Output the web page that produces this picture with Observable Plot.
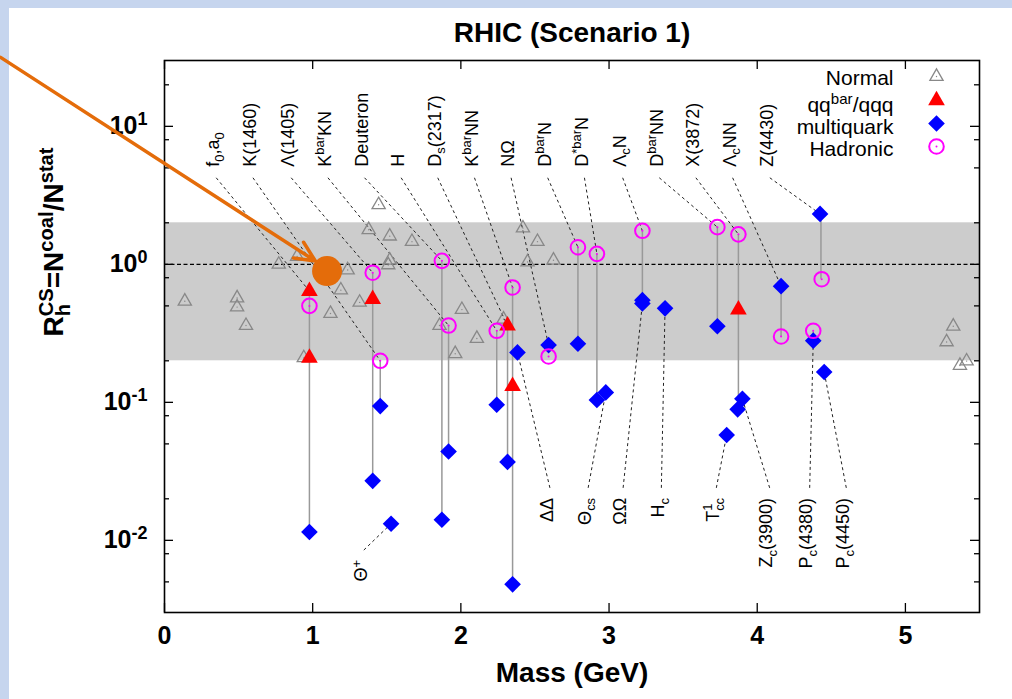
<!DOCTYPE html>
<html><head><meta charset="utf-8">
<script src="https://cdn.jsdelivr.net/npm/d3@7"></script>
<script src="https://cdn.jsdelivr.net/npm/@observablehq/plot@0.6"></script>
<style>
body{margin:0;width:1012px;height:699px;overflow:hidden;background:#c6d5ee;position:relative}
#paper{position:absolute;left:9px;top:8px;right:0;bottom:0;background:#fff}
#chart{position:absolute;left:0;top:0}
</style></head><body><div id="paper"></div><div id="chart"></div>
<script>
// ---------- data (mass in GeV, ratio R_h) ----------
const titleText = "RHIC (Scenario 1)";
const xLabel = "Mass (GeV)";
const yLabel = "R^{CS}_{h}=N^{coal}/N^{stat}";
const xTicks = [0, 1, 2, 3, 4, 5];
const yMajorTicks = [0.01, 0.1, 1, 10];
const yMinorTicks = [0.005, 0.008, 0.02, 0.05, 0.08, 0.2, 0.5, 0.8, 2, 5, 8, 20];
const xDomain = [0, 5.5];
const yDomain = [0.003, 30];
const bandLow = 0.2, bandHigh = 2;
const unityRatio = 1;

const normalMass  = [0.137,0.49,0.49,0.55,0.771,0.895,0.94,1.12,1.19,1.236,1.317,1.378,1.445,1.52,1.52,1.51,1.67,1.856,1.962,2.007,2.108,2.288,2.419,2.45,2.517,2.625,5.278,5.323,5.368,5.413];
const normalRatio = [0.54,0.57,0.49,0.36,1.0,1.14,0.21,0.44,0.65,0.91,0.53,1.78,2.7,1.6,1.07,0.99,1.46,0.36,0.225,0.47,0.29,0.40,1.83,1.04,1.46,1.07,0.274,0.356,0.185,0.199];

const qqMass  = [0.978,0.978,1.405,2.315,2.349,3.873];
const qqRatio = [0.64,0.21,0.56,0.36,0.131,0.47];

const multiMass  = [0.978,1.405,1.456,1.529,1.872,1.917,2.242,2.315,2.349,2.382,2.592,2.79,2.918,2.978,3.225,3.225,3.378,3.731,3.794,3.90,3.868,4.161,4.378,4.424,4.452];
const multiRatio = [0.0115,0.027,0.094,0.0132,0.0141,0.044,0.096,0.037,0.0048,0.23,0.26,0.266,0.104,0.118,0.55,0.52,0.48,0.356,0.058,0.106,0.089,0.695,0.28,2.32,0.166];

const hadMass  = [0.978,1.405,1.456,1.872,1.917,2.242,2.349,2.592,2.79,2.918,3.225,3.731,3.873,4.161,4.378,4.435];
const hadRatio = [0.50,0.87,0.20,1.06,0.36,0.33,0.68,0.215,1.33,1.19,1.75,1.86,1.65,0.30,0.33,0.78];

// vertical connectors between model values of one hadron
const connMass = [0.978,1.405,1.456,1.872,1.917,2.242,2.315,2.349,2.79,2.918,3.225,3.731,3.873,4.161,4.378,4.43];
const connHigh = [0.64,0.87,0.20,1.06,0.36,0.33,0.36,0.68,1.33,1.19,1.75,1.86,1.65,0.695,0.33,2.32];
const connLow  = [0.0115,0.027,0.094,0.0141,0.044,0.096,0.037,0.0048,0.266,0.104,0.52,0.356,0.106,0.30,0.28,0.78];

// labels above
const topLabels  = ["f_{0},a_{0}","K(1460)","Λ(1405)","K^{bar}KN","Deuteron","H","D_{s}(2317)","K^{bar}NN","NΩ","D^{bar}N","D^{*bar}N","Λ_{c}N","D^{bar}NN","X(3872)","Λ_{c}NN","Z(4430)"];
const topLabelX  = [0.332,0.58,0.838,1.086,1.333,1.58,1.827,2.075,2.322,2.569,2.817,3.075,3.322,3.569,3.817,4.068];
const topTargetX = [0.978,1.456,1.405,1.917,1.872,2.242,2.315,2.349,2.592,2.79,2.918,3.225,3.731,3.873,4.161,4.424];
const topTargetY = [0.64,0.20,0.87,0.36,1.06,0.33,0.36,0.68,0.26,1.33,1.19,1.75,1.86,1.65,0.695,2.32];
const topLabelBase = 5.1, topLineStart = 4.24;

// labels below
const botLabels  = ["ΔΔ","Θ_{cs}","ΩΩ","H_{c}","T^{1}_{cc}","Z_{c}(3900)","P_{c}(4380)","P_{c}(4450)"];
const botLabelX  = [2.581,2.839,3.075,3.333,3.704,4.064,4.334,4.581];
const botTargetX = [2.382,2.978,3.225,3.378,3.794,3.90,4.378,4.452];
const botTargetY = [0.23,0.118,0.52,0.48,0.058,0.106,0.28,0.166];
const botLabelTop = 0.0203, botLineStart = 0.024;

const thetaLabel = "Θ^{+}";
const thetaLabelX = 1.33, thetaLabelTop = 0.0072;
const thetaLineFrom = [1.345, 0.0085], thetaTarget = [1.529, 0.0132];

const legendLabels = ["Normal","qq^{bar}/qqq","multiquark","Hadronic"];

// orange annotation
const highlight = {mass: 1.097, ratio: 0.894};
const arrowFrom = {mass: -1.106, ratio: 31.6};
const arrowTo = {mass: 1.018, ratio: 1.057};

// ---------- layout ----------
const W = 1012, H = 699, mL = 164, mR = 33, mT = 60, mB = 87;
const fw = W - mL - mR, fh = H - mT - mB;
const FONT = '"Liberation Sans", Arial, Helvetica, sans-serif';
const idx = a => a.map((_, i) => i);
const ORANGE = "#E46C0A";

const marks = [
  Plot.rect([0], {x1: xDomain[0], x2: xDomain[1], y1: bandLow, y2: bandHigh, fill: "#cccccc"}),
  Plot.ruleY([unityRatio], {stroke: "black", strokeWidth: 1.3, strokeDasharray: "4,2.5"}),
  Plot.ruleX(idx(connMass), {x: i => connMass[i], y1: i => connHigh[i], y2: i => connLow[i], stroke: "#999", strokeWidth: 1.5}),
  Plot.link(idx(topLabels), {x1: i => topLabelX[i] + 0.017, y1: topLineStart, x2: i => topTargetX[i], y2: i => topTargetY[i], stroke: "#222", strokeWidth: 1, strokeDasharray: "3,3"}),
  Plot.link(idx(botLabels), {x1: i => botLabelX[i] + 0.02, y1: botLineStart, x2: i => botTargetX[i], y2: i => botTargetY[i], stroke: "#222", strokeWidth: 1, strokeDasharray: "3,3"}),
  Plot.link([0], {x1: thetaLineFrom[0], y1: thetaLineFrom[1], x2: thetaTarget[0], y2: thetaTarget[1], stroke: "#222", strokeWidth: 1, strokeDasharray: "3,3"}),
  Plot.dot(idx(normalMass), {x: i => normalMass[i], y: i => normalRatio[i], symbol: "triangle", r: 4.9, stroke: "#888", strokeWidth: 1.3, fill: "none"}),
  Plot.dot(idx(normalMass), {x: i => normalMass[i], y: i => normalRatio[i], r: 0.7, fill: "#888"}),
  Plot.dot(idx(qqMass), {x: i => qqMass[i], y: i => qqRatio[i], symbol: "triangle", r: 6.2, fill: "#ff0000"}),
  Plot.dot(idx(multiMass), {x: i => multiMass[i], y: i => multiRatio[i], symbol: "diamond2", r: 7.5, fill: "#0000ff"}),
  Plot.dot(idx(hadMass), {x: i => hadMass[i], y: i => hadRatio[i], r: 7.3, stroke: "#ff00ff", strokeWidth: 2, fill: "none"}),
  Plot.dot(idx(hadMass), {x: i => hadMass[i], y: i => hadRatio[i], r: 1, fill: "#ff00ff"}),
  // labels
  Plot.text(idx(topLabels), {x: i => topLabelX[i], y: topLabelBase, text: i => topLabels[i], rotate: -90, textAnchor: "start", lineAnchor: "middle", fontSize: 18, fill: "black"}),
  Plot.text(idx(botLabels), {x: i => botLabelX[i], y: botLabelTop, text: i => botLabels[i], rotate: -90, textAnchor: "end", lineAnchor: "middle", fontSize: 18, fill: "black"}),
  Plot.text([thetaLabel], {x: thetaLabelX, y: thetaLabelTop, text: d => d, rotate: -90, textAnchor: "end", lineAnchor: "middle", fontSize: 18, fill: "black"}),
  // ticks (inward, all four sides)
  Plot.tickY(yMajorTicks, {y: d => d, insetRight: fw - 9, stroke: "black", strokeWidth: 1.3}),
  Plot.tickY(yMajorTicks, {y: d => d, insetLeft: fw - 9, stroke: "black", strokeWidth: 1.3}),
  Plot.tickY(yMinorTicks, {y: d => d, insetRight: fw - 5, stroke: "black", strokeWidth: 1.3}),
  Plot.tickY(yMinorTicks, {y: d => d, insetLeft: fw - 5, stroke: "black", strokeWidth: 1.3}),
  Plot.tickX(xTicks, {x: d => d, insetBottom: fh - 9, stroke: "black", strokeWidth: 1.3}),
  Plot.tickX(xTicks, {x: d => d, insetTop: fh - 9, stroke: "black", strokeWidth: 1.3}),
  Plot.frame({stroke: "black", strokeWidth: 1.6}),
  // tick labels and titles
  Plot.text(xTicks, {x: d => d, frameAnchor: "bottom", dy: 23, text: d => String(d), lineAnchor: "middle", fontSize: 25, fontWeight: "bold", fill: "black"}),
  Plot.text(yMajorTicks, {y: d => d, frameAnchor: "left", dx: -17, text: d => "10^{" + Math.round(Math.log10(d)) + "}", textAnchor: "end", lineAnchor: "middle", fontSize: 25, fontWeight: "bold", fill: "black"}),
  Plot.text([titleText], {frameAnchor: "top", dy: -27, text: d => d, lineAnchor: "middle", fontSize: 28, fontWeight: "bold", fill: "black"}),
  Plot.text([xLabel], {frameAnchor: "bottom", dy: 61, text: d => d, lineAnchor: "middle", fontSize: 28, fontWeight: "bold", fill: "black"}),
  Plot.text([yLabel], {frameAnchor: "left", dx: -110, text: d => d, rotate: -90, lineAnchor: "middle", fontSize: 28, fontWeight: "bold", fill: "black"}),
];

// legend
const legendDy = [16, 40, 63, 86];
const legendTextDy = [18, 45, 67, 89];
const legendSymbols = [
  dy => [Plot.dot([0], {frameAnchor: "top-right", dx: -43, dy, symbol: "triangle", r: 4.9, stroke: "#888", strokeWidth: 1.3, fill: "none"}),
         Plot.dot([0], {frameAnchor: "top-right", dx: -43, dy, r: 0.7, fill: "#888"})],
  dy => [Plot.dot([0], {frameAnchor: "top-right", dx: -43, dy, symbol: "triangle", r: 6.2, fill: "#ff0000"})],
  dy => [Plot.dot([0], {frameAnchor: "top-right", dx: -43, dy, symbol: "diamond2", r: 7.5, fill: "#0000ff"})],
  dy => [Plot.dot([0], {frameAnchor: "top-right", dx: -43, dy, r: 7.3, stroke: "#ff00ff", strokeWidth: 2, fill: "none"}),
         Plot.dot([0], {frameAnchor: "top-right", dx: -43, dy, r: 1, fill: "#ff00ff"})]
];
legendLabels.forEach((lab, i) => {
  marks.push(Plot.text([lab], {frameAnchor: "top-right", dx: -86, dy: legendTextDy[i], text: d => d, textAnchor: "end", lineAnchor: "middle", fontSize: 21, fill: "black"}));
  marks.push(...legendSymbols[i](legendDy[i]));
});

// orange annotation
marks.push(Plot.arrow([0], {x1: arrowFrom.mass, y1: arrowFrom.ratio, x2: arrowTo.mass, y2: arrowTo.ratio, stroke: ORANGE, strokeWidth: 3.5, headLength: 9.5, headAngle: 50}));
marks.push(Plot.dot([0], {x: highlight.mass, y: highlight.ratio, r: 15, fill: ORANGE}));

const svg = Plot.plot({
  width: W, height: H,
  marginLeft: mL, marginRight: mR, marginTop: mT, marginBottom: mB,
  x: {domain: xDomain, axis: null},
  y: {type: "log", domain: yDomain, axis: null},
  style: {fontFamily: FONT, background: "transparent", overflow: "visible"},
  marks
});
document.getElementById("chart").append(svg);

// rich text: ^{sup} _{sub} and stacked ^{a}_{b}
function richify(el) {
  const s = el.textContent;
  if (!/[\^_]\{/.test(s)) return;
  const fs = parseFloat(getComputedStyle(el).fontSize);
  const SC = 0.72, UP = -0.38 * fs, DN = 0.25 * fs;
  const NS = "http://www.w3.org/2000/svg";
  el.textContent = "";
  let shift = 0, pendingDx = 0;
  const add = (txt, target, small) => {
    const t = document.createElementNS(NS, "tspan");
    t.textContent = txt;
    if (small) t.setAttribute("font-size", SC * fs);
    const d = target - shift;
    if (d) t.setAttribute("dy", d);
    if (pendingDx) { t.setAttribute("dx", pendingDx); pendingDx = 0; }
    shift = target;
    el.appendChild(t);
    return t;
  };
  const re = /\^\{([^}]*)\}_\{([^}]*)\}|\^\{([^}]*)\}|_\{([^}]*)\}|([^\^_]+)/g;
  let m;
  while ((m = re.exec(s))) {
    if (m[1] !== undefined) {
      const a = add(m[1], UP, true);
      const wa = a.getComputedTextLength();
      const b = add(m[2], DN, true);
      b.setAttribute("dx", -wa);
      const wb = b.getComputedTextLength();
      pendingDx = Math.max(0, wa - wb);
    } else if (m[3] !== undefined) add(m[3], UP, true);
    else if (m[4] !== undefined) add(m[4], DN, true);
    else add(m[5], 0, false);
  }
}
svg.querySelectorAll("text").forEach(richify);
</script></body></html>
